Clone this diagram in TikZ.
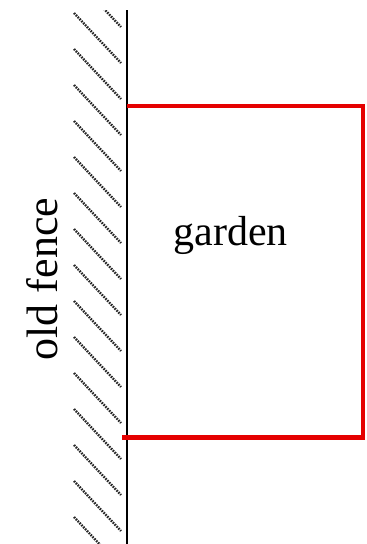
\documentclass[tikz,border=0pt]{standalone}
\usepackage{fontspec}
\setmainfont{Liberation Serif}
\usetikzlibrary{positioning}

\begin{document}
\begin{tikzpicture}[x=1pt, y=-1pt,
  fenceline/.style={draw=black,line width=1.8pt},
  hatch/.style={draw=black!85,line width=2.4pt,dash pattern=on 1.6pt off 1.1pt},
  plot/.style={draw=red!90!black,line width=4.2pt,line join=miter},
  every node/.style={inner sep=0pt}]
\useasboundingbox (0,0) rectangle (367,544);
\begin{scope}
  \clip (60,10) rectangle (125,544);
  \foreach \k in {-1,...,14}
    \draw[hatch] (74,13+36*\k) -- (121,63+36*\k);
\end{scope}
\coordinate (ftop) at (127,10);
\coordinate (fbot) at (127,544);
\draw[fenceline] (ftop) -- (fbot);
\coordinate (g1) at (127,106);
\coordinate (g2) at (363,106);
\coordinate (g3) at (363,437.5);
\coordinate (g4) at (122,437.5);
\draw[plot] (g1) -- (g2) -- (g3) -- (g4);
\node[anchor=base,font=\fontsize{42}{46}\selectfont] (garden) at (230.5,245) {garden};
\node[anchor=base,rotate=90,font=\fontsize{44}{48}\selectfont] (fence) at (57,279) {old fence};
\end{tikzpicture}
\end{document}
